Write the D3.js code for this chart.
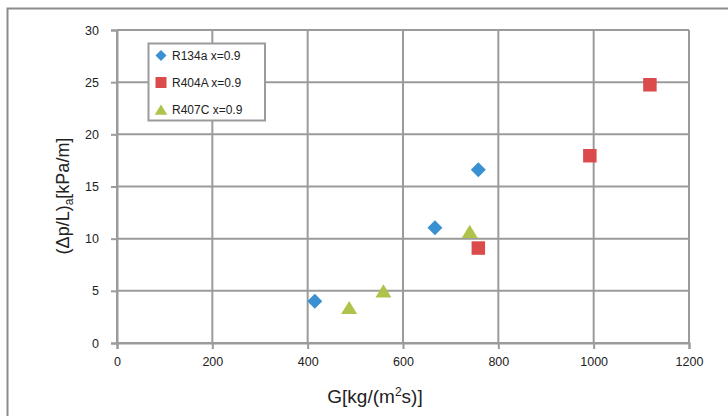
<!DOCTYPE html>
<html>
<head>
<meta charset="utf-8">
<script src="https://cdn.jsdelivr.net/npm/d3@7"></script>
<style>
  html, body { margin: 0; padding: 0; background: #fff; }
  svg { display: block; }
  text { font-family: "Liberation Sans", Arial, sans-serif; fill: #222; }
</style>
</head>
<body>
<svg id="chart" width="728" height="416"></svg>
<script>
// Mass flux G [kg/(m²s)] and frictional pressure gradient (Δp/L)a [kPa/m]
const seriesNames = ["R134a x=0.9", "R404A x=0.9", "R407C x=0.9"];
const r134aG  = [415, 667, 758];
const r134aDp = [4.0, 11.05, 16.6];
const r404aG  = [758, 992, 1118];
const r404aDp = [9.1, 17.95, 24.75];
const r407cG  = [487, 559, 740];
const r407cDp = [3.4, 5.0, 10.7];
const xTicks = [0, 200, 400, 600, 800, 1000, 1200];
const yTicks = [0, 5, 10, 15, 20, 25, 30];

const series = [
  { name: seriesNames[0], g: r134aG, dp: r134aDp, shape: "diamond",  color: "#3a91d1" },
  { name: seriesNames[1], g: r404aG, dp: r404aDp, shape: "square",   color: "#dc4b4b" },
  { name: seriesNames[2], g: r407cG, dp: r407cDp, shape: "triangle", color: "#aec34a" }
];

const svg = d3.select("#chart");
const grid = "#9b9b9b";

// chart area frame
svg.append("rect")
  .attr("x", 7.5).attr("y", 8.5).attr("width", 740).attr("height", 420)
  .attr("fill", "none").attr("stroke", "#8c8c8c").attr("stroke-width", 2);

const x = d3.scaleLinear().domain([0, 1200]).range([117, 689]);
const y = d3.scaleLinear().domain([0, 30]).range([343, 30]);

// gridlines
svg.append("g").selectAll("line").data(xTicks).join("line")
  .attr("x1", d => x(d)).attr("x2", d => x(d))
  .attr("y1", y(30)).attr("y2", y(0))
  .attr("stroke", grid).attr("stroke-width", 2);
svg.append("g").selectAll("line").data(yTicks).join("line")
  .attr("x1", x(0)).attr("x2", x(1200))
  .attr("y1", d => y(d)).attr("y2", d => y(d))
  .attr("stroke", grid).attr("stroke-width", 2);

// axes
const xAxis = d3.axisBottom(x).tickValues(xTicks).tickSize(6).tickPadding(8).tickFormat(d3.format("d"));
const yAxis = d3.axisLeft(y).tickValues(yTicks).tickSize(6).tickPadding(12).tickFormat(d3.format("d"));

const gx = svg.append("g").attr("transform", `translate(0,${y(0)})`).call(xAxis);
const gy = svg.append("g").attr("transform", `translate(${x(0)},0)`).call(yAxis);
[gx, gy].forEach(g => {
  g.select(".domain").attr("stroke", grid).attr("stroke-width", 2);
  g.selectAll(".tick line").attr("stroke", grid).attr("stroke-width", 2);
  g.selectAll(".tick text").attr("font-family", "Liberation Sans, Arial, sans-serif")
    .attr("font-size", 12.5).attr("fill", "#222");
});

// axis titles
const xTitle = svg.append("text")
  .attr("x", 375).attr("y", 403)
  .attr("text-anchor", "middle").attr("font-size", 19);
xTitle.append("tspan").text("G[kg/(m");
xTitle.append("tspan").attr("font-size", 12).attr("dy", -7).text("2");
xTitle.append("tspan").attr("dy", 7).text("s)]");

const yTitle = svg.append("text")
  .attr("transform", "translate(69,196) rotate(-90)")
  .attr("text-anchor", "middle").attr("font-size", 18);
yTitle.append("tspan").text("(Δp/L)");
yTitle.append("tspan").attr("font-size", 12).attr("dy", 4).text("a");
yTitle.append("tspan").attr("dy", -4).text("[kPa/m]");

// marker shapes
function markerPath(shape, s) {
  if (shape === "diamond") return `M0,${-s/2}L${s/2},0L0,${s/2}L${-s/2},0Z`;
  if (shape === "square") return `M${-s/2},${-s/2}H${s/2}V${s/2}H${-s/2}Z`;
  const h = s * 0.82;
  return `M0,${-h/2}L${s/2},${h/2}L${-s/2},${h/2}Z`;
}
const plotSize = { diamond: 15, square: 13.5, triangle: 16 };
const legendSize = { diamond: 11, square: 11, triangle: 12.5 };

// data points
series.forEach(s => {
  svg.append("g").selectAll("path")
    .data(s.g.map((g, i) => [g, s.dp[i]]))
    .join("path")
    .attr("transform", d => `translate(${x(d[0])},${y(d[1])})`)
    .attr("d", markerPath(s.shape, plotSize[s.shape]))
    .attr("fill", s.color);
});

// legend
const legend = svg.append("g");
legend.append("rect")
  .attr("x", 148.5).attr("y", 43.5).attr("width", 116.5).attr("height", 77)
  .attr("fill", "#fff").attr("stroke", "#9b9b9b").attr("stroke-width", 2);
series.forEach((s, i) => {
  const cy = 55.5 + i * 27;
  legend.append("path")
    .attr("transform", `translate(161,${cy})`)
    .attr("d", markerPath(s.shape, legendSize[s.shape]))
    .attr("fill", s.color);
  legend.append("text")
    .attr("x", 172).attr("y", cy + 4.3)
    .attr("font-size", 12)
    .text(s.name);
});
</script>
</body>
</html>
